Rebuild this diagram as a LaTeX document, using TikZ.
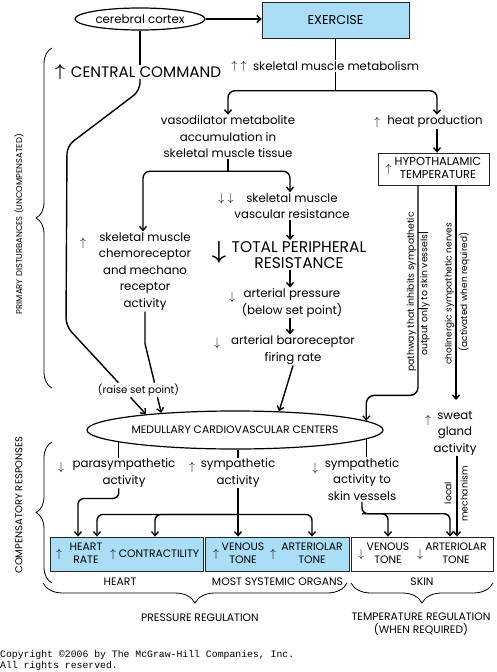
\documentclass[tikz,border=0pt]{standalone}
\usepackage{fontspec}
\setmainfont{Poppins}
\newfontfamily\copyfont{Liberation Mono}
\usetikzlibrary{positioning,arrows.meta,shapes.geometric,decorations.pathreplacing}
\definecolor{boxblue}{RGB}{170,222,247}

\tikzset{
  txt/.style={font=\fontsize{11.8}{16.5}\selectfont, align=center, inner sep=1pt},
  small/.style={font=\fontsize{10.2}{12}\selectfont, align=center, inner sep=1pt},
  caps/.style={font=\fontsize{10.8}{13}\selectfont, align=center, inner sep=1pt},
  bigcaps/.style={font=\fontsize{15.5}{16.5}\selectfont, align=center, inner sep=1pt},
  vert/.style={font=\fontsize{9.3}{12}\selectfont, rotate=90, inner sep=1pt},
  inarr/.style={font=\fontsize{12}{12}\selectfont, inner sep=0pt},
  conn/.style={line width=1.4pt},
  arr/.style={line width=1.4pt, -{Straight Barb[length=4pt,width=7pt]}},
  organ/.style={draw=black!85, line width=0.8pt, minimum height=34pt},
  brc/.style={decorate, decoration={brace, amplitude=#1}, line width=0.8pt},
  brc/.default=16pt
}

\begin{document}
\begin{tikzpicture}[x=1pt, y=-1pt]
  \useasboundingbox (0,0) rectangle (496,672);

  % top
  \node[draw, ellipse, line width=1.2pt, minimum width=130pt, minimum height=22pt, txt] (cortex) at (140,19) {cerebral cortex};
  \node[draw=black!85, fill=boxblue, minimum width=147pt, minimum height=36pt, caps, font=\fontsize{12.8}{13}\selectfont] (exercise) at (335.5,20) {EXERCISE};
  \node[txt] (metab) at (336,66) {skeletal muscle metabolism};
  \node[bigcaps, font=\fontsize{15.2}{16}\selectfont] (central) at (146,72) {CENTRAL COMMAND};
  \node[txt] (vaso) at (228,137) {vasodilator metabolite\\accumulation in\\skeletal muscle tissue};
  \node[txt] (heat) at (435,122) {heat production};
  \node[draw=black!85, line width=0.8pt, minimum width=111pt, minimum height=32pt, caps, font=\fontsize{11.5}{13}\selectfont] (hypo) at (433.5,169)
    {$\uparrow$\hspace{3pt}\begin{tabular}{@{}c@{}}HYPOTHALAMIC\\TEMPERATURE\end{tabular}};

  % middle
  \node[txt] (chemo) at (145,271.5) {skeletal muscle\\chemoreceptor\\and mechano\\receptor\\activity};
  \node[txt] (vasc) at (292,206) {skeletal muscle\\vascular resistance};
  \node[bigcaps] (tpr) at (299,255) {TOTAL PERIPHERAL\\RESISTANCE};
  \node[txt] (press) at (292,303) {arterial pressure\\(below set point)};
  \node[txt] (baro) at (293,350) {arterial baroreceptor\\firing rate};
  \node[small] (raise) at (138.5,390) {(raise set point)};
  \node[draw, ellipse, line width=1.2pt, minimum width=296pt, minimum height=38pt, caps] (med) at (235,430) {MEDULLARY CARDIOVASCULAR CENTERS};

  \node[vert] (pw1) at (411.5,292) {pathway that inhibits sympathetic};
  \node[vert] (pw2) at (425,295) {output only to skin vessels};
  \node[vert, font=\fontsize{9}{12}\selectfont] (ch1) at (449.5,294) {cholinergic sympathetic nerves};
  \node[vert, font=\fontsize{9}{12}\selectfont] (ch2) at (464,292) {(activated when required)};

  % lower
  \node[txt] (sweat) at (455,433) {sweat\\gland\\activity};
  \node[txt] (par) at (124,473) {parasympathetic\\activity};
  \node[txt] (sym) at (238,473) {sympathetic\\activity};
  \node[txt] (skin) at (362,479.5) {sympathetic\\activity to\\skin vessels};
  \node[vert] (loc1) at (448,493) {local};
  \node[vert] (loc2) at (464,494) {mechanism};

  \node[organ, fill=boxblue, minimum width=153pt] (box1) at (126.5,554) {};
  \node[organ, fill=boxblue, minimum width=144pt] (box2) at (277,554) {};
  \node[organ, fill=white, minimum width=142pt] (box3) at (422,554) {};
  \node[caps] (hr) at (86,553) {HEART\\RATE};
  \node[caps] (ct) at (159,554) {CONTRACTILITY};
  \node[caps] (vt) at (243,553) {VENOUS\\TONE};
  \node[caps] (at) at (312,553) {ARTERIOLAR\\TONE};
  \node[caps] (svt) at (388,553) {VENOUS\\TONE};
  \node[caps] (sat) at (456,553) {ARTERIOLAR\\TONE};

  \node[caps] (lab1) at (120,582) {HEART};
  \node[caps] (lab2) at (277.5,582) {MOST SYSTEMIC ORGANS};
  \node[caps] (lab3) at (422,582) {SKIN};
  \node[caps] (preg) at (200,618) {PRESSURE REGULATION};
  \node[caps] (treg) at (421,624.5) {TEMPERATURE REGULATION\\(WHEN REQUIRED)};

  \node[vert, font=\fontsize{8.4}{12}\selectfont] (prim) at (19,224) {PRIMARY DISTURBANCES (UNCOMPENSATED)};
  \node[vert, font=\fontsize{10}{12}\selectfont] (comp) at (19,505) {COMPENSATORY RESPONSES};

  \node[anchor=west, align=left, inner sep=0pt, font=\copyfont\fontsize{9.8}{11}\selectfont] (copy) at (0,660.5)
    {Copyright \textcopyright2006 by The McGraw-Hill Companies, Inc.\\All rights reserved.};

  % up and down arrows
  \foreach \x/\y/\s [count=\i] in {239/66/{\uparrow\;\uparrow}, 377/122/\uparrow, 226/198/{\downarrow\;\downarrow},
      83/243/\uparrow, 232/297/\downarrow, 217/343/\downarrow, 428/420/\uparrow, 61/467/\downarrow,
      192/467/\uparrow, 315/468/\downarrow, 59/554/\uparrow, 113/554/\uparrow, 216/554/\uparrow,
      273/554/\uparrow, 361/554/\downarrow, 420/554/\downarrow}
    \node[inarr] (ar\i) at (\x,\y) {$\s$};
  \node[inarr, font=\fontsize{17}{17}\selectfont\boldmath] (bigup) at (60,72) {$\uparrow$};
  \node[inarr, font=\fontsize{25}{25}\selectfont\boldmath] (bigdown) at (219,252) {$\downarrow$};

  % connectors, top
  \draw[arr] (cortex.east) -- (cortex.east -| exercise.west);
  \draw[conn] (cortex.south) -- (cortex.south |- central.north);
  \draw[conn, rounded corners=8pt] (cortex.south |- central.south) -- ++(0,12) -- (67,146) -- (66,326) -- ([xshift=-20pt]raise.north);
  \draw[conn] (chemo.south) -- ++(0,32) -- ([xshift=16pt]raise.north);
  \draw[arr] ([xshift=-8pt]raise.south) -- (med.170);
  \draw[arr] ([xshift=19pt]raise.south) -- (med.167);

  \draw[conn] (exercise.south) -- (exercise.south |- metab.north);
  \draw[conn] (exercise.south |- metab.south) -- ++(0,19) coordinate (mj);
  \draw[arr, rounded corners=7pt] (mj) -| (vaso.north);
  \coordinate (hx) at ([xshift=2pt]heat.south);
  \draw[arr, rounded corners=7pt] (mj) -| (hx |- heat.north);
  \draw[arr] (hx) -- (hx |- hypo.north);

  % middle column
  \draw[conn] (vaso.south) -- ++(0,12) coordinate (vj);
  \draw[arr, rounded corners=7pt] (vj) -| ([xshift=-2pt]chemo.north);
  \coordinate (mx) at ([xshift=-2pt]vasc.south);
  \draw[arr, rounded corners=7pt] (vj) -| (mx |- vasc.north);
  \draw[arr] (mx) -- (mx |- tpr.north);
  \draw[arr] (mx |- tpr.south) -- (mx |- press.north);
  \draw[arr] (mx |- press.south) -- (mx |- baro.north);
  \draw[arr] (baro.south) -- (med.23);

  % hypothalamus
  \coordinate (hyL) at ([xshift=-15.5pt]hypo.south);
  \coordinate (hyR) at ([xshift=22.5pt]hypo.south);
  \coordinate (hyE) at (hyR |- 0,400);
  \draw[arr, rounded corners=8pt] (hyL) -- ++(0,210) -| (med.4);
  \draw[arr] (hyR) -- (hyE);
  \draw[line width=0.6pt] (hyL |- 0,232) -- ++(10,0) (hyL |- 0,308) -- ++(10,0);

  % compensatory
  \draw[conn] (med.186) -- (med.186 |- par.north);
  \coordinate (hrL) at ([xshift=-8pt]hr.north);
  \coordinate (hrR) at ([xshift=11pt]hr.north);
  \coordinate (ctT) at ([xshift=-4pt]ct.north);
  \draw[arr, rounded corners=6pt] (med.186 |- par.south) -- ++(0,10) -| (hrL |- box1.north);
  \draw[conn] (med.south -| sym.north) -- (sym.north);
  \draw[arr] (sym.south) -- (sym.south |- box2.north);
  \path (sym.south) ++(0,26) coordinate (sj);
  \draw[arr, rounded corners=6pt] (sj) -| (hrR |- box1.north);
  \draw[arr, rounded corners=6pt] (sj) -| (ctT |- box1.north);
  \draw[arr, rounded corners=6pt] (sj) -| (at.north |- box2.north);

  \draw[conn] (med.356) -- (med.356 |- skin.north);
  \coordinate (satL) at ([xshift=-6pt]sat.north);
  \draw[arr, rounded corners=6pt] (skin.south) -- ++(0,12) coordinate (kj) -| (svt.north |- box3.north);
  \draw[arr, rounded corners=6pt] (kj) -| (satL |- box3.north);
  \coordinate (swx) at ([xshift=2pt]sweat.south);
  \draw[arr] (swx) -- (swx |- box3.north);

  % braces
  \draw[brc] (52,388) -- (52,48);
  \draw[brc] (52,583) -- (52,442);
  \draw[brc=20pt] (347,583) -- (43,583);
  \draw[brc=20pt] (493,583) -- (351,583);
\end{tikzpicture}
\end{document}
